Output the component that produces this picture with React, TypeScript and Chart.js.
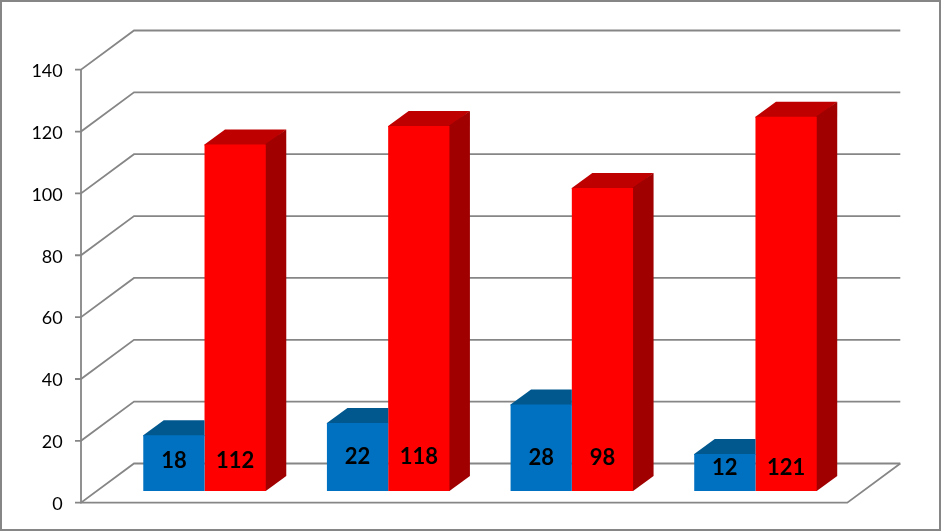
import React, { useEffect, useRef } from "react";
import { Chart, registerables } from "chart.js";

Chart.register(...registerables);

const categories = ["A", "B", "C", "D"];
const blueValues = [18, 22, 28, 12];
const redValues = [112, 118, 98, 121];
const labelLevels = [9.7, 11, 10.7, 7.4];

const GRAY = "#868686";
const WALL_DX = 53;
const WALL_DY = 39.2;
const AXIS_GAP = 31.7;
const BAR_SHIFT_Y = -11.7;
const BAR_DX = 20.5;
const BAR_DY = 15;
const TICK_TEXT_SHIFT = 1.5;
const FACE_COLORS = [
  { top: "#00588F", side: "#004C80" },
  { top: "#BF0000", side: "#A00000" },
];

const poly = (ctx: CanvasRenderingContext2D, pts: number[][], fill: string) => {
  ctx.beginPath();
  pts.forEach(([x, y], i) => (i ? ctx.lineTo(x, y) : ctx.moveTo(x, y)));
  ctx.closePath();
  ctx.fillStyle = fill;
  ctx.fill();
};

const bar3d = {
  id: "bar3d",
  beforeDatasetsDraw(chart: any) {
    const { ctx, chartArea, scales } = chart;
    const y = scales.y;
    const axisX = chartArea.left - AXIS_GAP;
    const backRight = chartArea.right + WALL_DX;
    ctx.save();
    ctx.strokeStyle = GRAY;
    ctx.lineWidth = 1.8;
    ctx.lineJoin = "miter";
    y.ticks.forEach((t: any) => {
      const py = y.getPixelForValue(t.value);
      ctx.beginPath();
      ctx.moveTo(axisX - 6, py);
      ctx.lineTo(axisX, py);
      ctx.lineTo(axisX + WALL_DX, py - WALL_DY);
      ctx.lineTo(backRight, py - WALL_DY);
      ctx.stroke();
    });
    const p0 = y.getPixelForValue(0);
    ctx.beginPath();
    ctx.moveTo(axisX, y.getPixelForValue(140));
    ctx.lineTo(axisX, p0);
    ctx.lineTo(chartArea.right, p0);
    ctx.lineTo(backRight, p0 - WALL_DY);
    ctx.stroke();
    ctx.restore();
    ctx.save();
    ctx.translate(0, BAR_SHIFT_Y);
  },
  beforeDatasetDraw(chart: any, args: any) {
    const { ctx } = chart;
    const colors = FACE_COLORS[args.index];
    const covered = args.index === 0;
    args.meta.data.forEach((b: any) => {
      const l = b.x - b.width / 2;
      const r = b.x + b.width / 2;
      const farR = covered ? r : r + BAR_DX;
      const topBack = b.y - BAR_DY;
      // Faces run slightly under the front face so no seam shows between them.
      poly(ctx, [[l, b.y + 1], [l, b.y], [l + BAR_DX, topBack], [farR, topBack], [r, b.y + 1]], colors.top);
      if (!covered) {
        poly(ctx, [[r - 1, b.y], [r + BAR_DX, topBack], [r + BAR_DX, b.base - BAR_DY], [r, b.base], [r - 1, b.base]], colors.side);
      }
    });
  },
  afterDatasetsDraw(chart: any) {
    const { ctx, scales } = chart;
    ctx.restore();
    ctx.save();
    ctx.font = "bold 22px Lato";
    ctx.fillStyle = "#000000";
    ctx.textAlign = "center";
    ctx.textBaseline = "middle";
    chart.data.datasets.forEach((ds: any, i: number) => {
      chart.getDatasetMeta(i).data.forEach((b: any, k: number) => {
        ctx.fillText(String(ds.data[k]), b.x, scales.y.getPixelForValue(labelLevels[k]) + BAR_SHIFT_Y);
      });
    });
    ctx.restore();
  },
};

export default function App() {
  const ref = useRef<HTMLCanvasElement>(null);
  useEffect(() => {
    document.body.style.margin = "0";
    const chart = new Chart(ref.current as HTMLCanvasElement, {
      type: "bar",
      data: {
        labels: categories,
        datasets: [
          { label: "Blue", data: blueValues, backgroundColor: "#0070C0", clip: false as any },
          { label: "Red", data: redValues, backgroundColor: "#FF0000", clip: false as any },
        ],
      },
      options: {
        responsive: false,
        animation: false,
        devicePixelRatio: 1,
        layout: { padding: { top: 69.7, bottom: 28.3, left: 0, right: 93.7 } },
        categoryPercentage: 0.667,
        barPercentage: 1,
        plugins: { legend: { display: false }, tooltip: { enabled: false } },
        scales: {
          x: { display: false, grid: { display: false } },
          y: {
            min: 0,
            max: 140,
            grid: { display: false, drawTicks: false },
            border: { display: false },
            ticks: { stepSize: 20, padding: 50, color: "#000000", font: { family: "Lato", size: 18 } },
            afterFit(scale: any) {
              scale.width = 112.7;
              scale.paddingTop = 0;
              scale.paddingBottom = 0;
              if (!scale.__shifted) {
                scale.__shifted = true;
                const drawLabels = scale.drawLabels;
                scale.drawLabels = function (area: any) {
                  const c = scale.ctx;
                  c.save();
                  c.translate(0, TICK_TEXT_SHIFT);
                  drawLabels.call(scale, area);
                  c.restore();
                };
              }
            },
          },
        },
      } as any,
      plugins: [bar3d],
    });
    return () => chart.destroy();
  }, []);
  return (
    <div style={{ position: "absolute", left: 0, top: 0, width: 941, height: 531, boxSizing: "border-box", border: `2px solid ${GRAY}`, overflow: "hidden", background: "#fff" }}>
      <canvas ref={ref} width={941} height={531} style={{ position: "absolute", left: -2, top: -2, display: "block" }} />
    </div>
  );
}
